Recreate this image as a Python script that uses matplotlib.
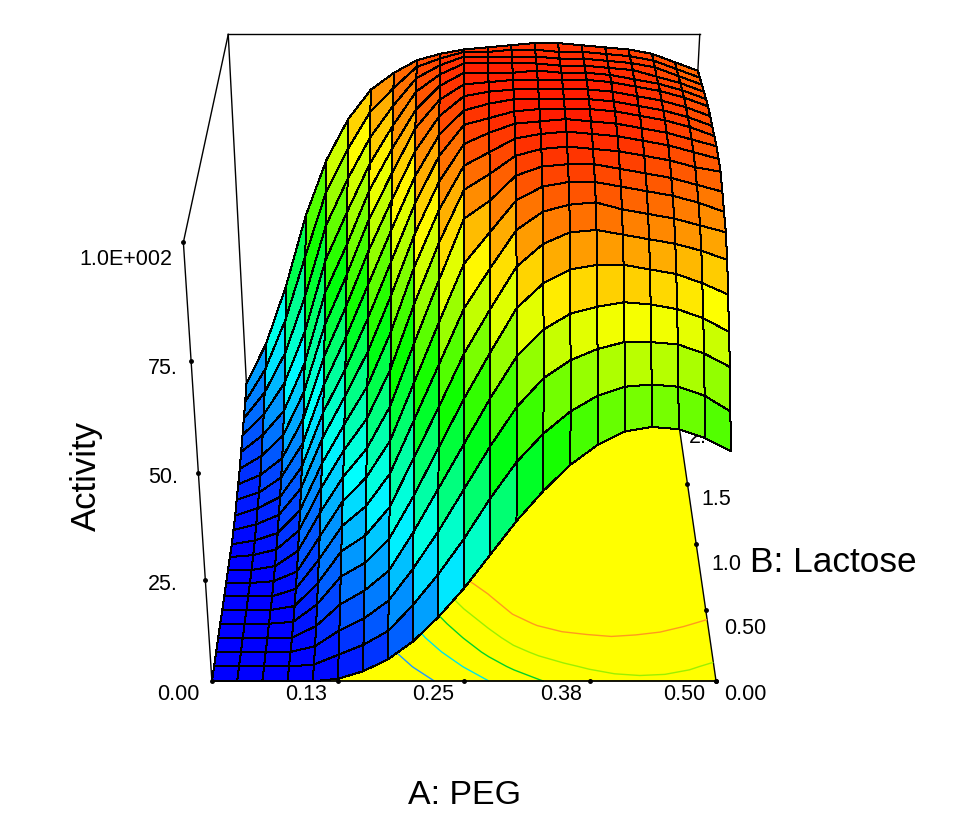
import numpy as np
import matplotlib
matplotlib.use("Agg")
import matplotlib.pyplot as plt
from matplotlib.colors import LinearSegmentedColormap

plt.rcParams['font.family'] = ['Liberation Sans', 'DejaVu Sans']

peg = [0.0, 0.025, 0.05, 0.075, 0.1, 0.125, 0.15, 0.175, 0.2, 0.225, 0.25,
       0.275, 0.3, 0.325, 0.35, 0.375, 0.4, 0.425, 0.45, 0.475, 0.5]
lactose = [0.0, 0.1, 0.2, 0.3, 0.4, 0.5, 0.6, 0.7, 0.8, 0.9, 1.0,
           1.1, 1.2, 1.3, 1.4, 1.5, 1.6, 1.7, 1.8, 1.9, 2.0]

# one row per peg value
activity = np.array([
    [0, 0, 0, 0, 0, 0, 0, 0, 0, 0, 0, 0.5, 1, 2, 3, 4, 5.5, 7, 8.5, 10, 12],
    [0, 0, 0, 0, 0, 0, 0, 0, 0, 0.5, 1, 2, 3, 4, 5.5, 7.5, 10, 12.5, 15.5, 19, 23],
    [0, 0, 0, 0, 0, 0, 0, 0.5, 1, 2, 3, 4.5, 6, 8, 10, 13, 16.5, 21, 26, 32, 38],
    [0, 0, 0, 0, 0.5, 1, 2, 3, 5, 7, 9, 11.5, 14, 17, 20.5, 24.5, 29, 34.5, 41, 48.5, 56],
    [0, 0.5, 1.5, 3, 5, 7, 9.5, 12, 15, 18, 21, 24.5, 28, 32, 36.5, 41.5, 47, 52.5, 58.5, 64.5, 70],
    [0.6, 3, 5.5, 8.5, 12, 15, 18, 21, 24, 27.5, 31, 35, 39, 44, 49, 54, 59, 64.5, 70, 75, 80],
    [2.5, 5.5, 8.5, 12, 15.5, 19, 23, 27, 31, 35.5, 40.5, 46, 51.5, 57, 62.5, 67.5, 72, 76, 80, 84, 87],
    [5.5, 9, 13, 17, 21.5, 26, 31, 36, 41.5, 47.5, 53.5, 59.5, 65, 70, 74.5, 78.5, 82, 85, 87.5, 89.5, 91],
    [10, 15.5, 21, 26.5, 32, 38, 44, 50, 56.5, 63, 69, 74, 78.5, 82.5, 86, 89, 91, 93, 94, 94.5, 94],
    [16, 23, 30, 37, 43.5, 50, 57, 64, 71, 77, 82, 86, 89.5, 92, 94, 95.5, 96.5, 97, 97, 96.5, 95.5],
    [23, 31.5, 40, 47.5, 55, 62.5, 70, 77.5, 85, 89, 92, 94.5, 96.5, 97.5, 98.5, 99, 99.5, 99.5, 99, 98, 96.5],
    [31, 41, 50, 58, 65.5, 72.5, 79, 84.5, 89, 92.5, 95, 97, 98, 99, 99.5, 99.5, 99.5, 99.5, 99, 98, 97],
    [39, 49.5, 59, 67.5, 75.5, 82, 87.5, 91.5, 94.5, 96.5, 98, 99, 99.5, 100, 100, 100, 99.5, 99.5, 99, 98.5, 97.5],
    [46, 56, 65.5, 73.5, 81, 87, 91.5, 94.5, 96.5, 98, 99, 99.5, 100, 100, 100, 100, 100, 99.5, 99, 98.5, 98],
    [52, 61, 69.5, 77, 84, 89.5, 93, 95.5, 97, 98.5, 99.5, 100, 100, 100, 100, 100, 99.5, 99, 98.5, 98, 98],
    [56.5, 64.5, 72, 78.5, 85, 90, 93.5, 95.5, 97, 98, 99, 99.5, 100, 100, 100, 100, 99.5, 99, 98.5, 98, 97.5],
    [59.5, 66.5, 73.5, 79.5, 85, 89, 92, 94.5, 96, 97.5, 98.5, 99, 99.5, 99.5, 99.5, 99.5, 99, 98.5, 98, 97.5, 97],
    [60.5, 67, 73.5, 79, 84, 88, 91, 93.5, 95, 96.5, 97.5, 98, 98.5, 98.5, 98.5, 98.5, 98, 98, 97.5, 97, 96.5],
    [60, 66.5, 73, 78, 83, 87, 90, 92.5, 94, 95.5, 96.5, 97, 97.5, 97.5, 97.5, 97.5, 97, 96.5, 96.5, 96, 95.5],
    [58, 64.5, 71, 76, 81, 85.5, 88.5, 91, 92.5, 94, 95, 95.5, 96, 96, 96, 96, 95.5, 95, 94.5, 94, 93.5],
    [55, 61, 68, 73, 78.5, 83.5, 87, 89, 91, 93, 93.5, 94, 94, 94, 94, 94, 93.5, 93, 92.5, 92, 91.5],
])

contour_levels = [15, 31, 47, 63, 80]
contour_colors = ['#1e9bff', '#00e6e6', '#00d228', '#9bf000', '#ff9a1e']

peg_ticks = [0.0, 0.125, 0.25, 0.375, 0.5]
peg_labels = ['0.00', '0.13', '0.25', '0.38', '0.50']
lactose_ticks = [0.0, 0.5, 1.0, 1.5, 2.0]
lactose_labels = ['0.00', '0.50', '1.0', '1.5', '2.']
activity_ticks = [25, 50, 75, 100]
activity_labels = ['25.', '50.', '75.', '1.0E+002']

W, H = 957, 821
fig = plt.figure(figsize=(W / 100, H / 100), dpi=100)
ax = fig.add_axes([42.4 / W, 52.4 / H, 821 / W, 821 / H], projection='3d',
                  computed_zorder=False)
ax.set_axis_off()
ax.patch.set_visible(False)
ax.view_init(elev=30, azim=-90)
ax.set_proj_type('persp', focal_length=0.548)
ax.set_box_aspect((2.1, 2.0, 2.06), zoom=0.976)
ax.set_xlim(0, 0.5, view_margin=0)
ax.set_ylim(0, 2, view_margin=0)
ax.set_zlim(0, 100, view_margin=0)

X, Y = np.meshgrid(peg, lactose, indexing='ij')

# floor with the contour lines
fx, fy = np.meshgrid([peg[0], peg[-1]], [lactose[0], lactose[-1]])
ax.plot_surface(fx, fy, np.zeros_like(fx), color='#ffff00', shade=False,
                linewidth=0, zorder=1)
ax.contour(X, Y, activity, levels=contour_levels, colors=contour_colors,
           zdir='z', offset=0, linewidths=1.0, zorder=2)

# bounding box, behind the surface
xl, xr = peg[0], peg[-1]
yf, yb = lactose[0], lactose[-1]
ztop = activity_ticks[-1]
for xs, ys, zs in [([xl, xl], [yb, yb], [0, ztop]),
                   ([xr, xr], [yb, yb], [0, ztop]),
                   ([xl, xr], [yb, yb], [ztop, ztop]),
                   ([xl, xl], [yf, yb], [ztop, ztop]),
                   ([xr, xr], [yf, yb], [0, 0])]:
    ax.plot(xs, ys, zs, color='k', lw=1.0, zorder=1.5)

jet5 = LinearSegmentedColormap.from_list(
    'de', ['#0000ff', '#00ffff', '#00ff00', '#ffff00', '#ff0000'])
ax.plot_surface(X, Y, activity, rstride=1, cstride=1, cmap=jet5, vmin=0, vmax=103,
                shade=False, edgecolor='k', linewidth=0.72, antialiased=False,
                zorder=3)

# front edges and tick dots go on top
ax.plot([xl, xr], [yf, yf], [0, 0], color='k', lw=1.3, zorder=4)
ax.plot([xl, xl], [yf, yf], [0, ztop], color='k', lw=1.0, zorder=4)
ax.plot(peg_ticks, [yf] * 5, [0] * 5, ls='', marker='o', ms=2.5, color='k', zorder=5)
ax.plot([xr] * 5, lactose_ticks, [0] * 5, ls='', marker='o', ms=2.5, color='k', zorder=2.5)
ax.plot([xl] * 4, [yf] * 4, activity_ticks, ls='', marker='o', ms=2.5, color='k', zorder=5)


def label(x, y, s, size=15.5, zorder=3, **kw):
    # x, y are pixels from the top left of the picture
    kw.setdefault('ha', 'center')
    kw.setdefault('va', 'center')
    fig.text(x / W, 1 - y / H, s, fontsize=size, zorder=zorder, **kw)


for s, x in zip(peg_labels, [178, 306, 433, 561, 684]):
    label(x, 694, s)
for s, x, y in zip(lactose_labels, [745, 745, 726, 716, 698], [694, 628, 564, 499, 437]):
    # the top label sits partly behind the surface in the original
    label(x, y, s, zorder=-1 if s == '2.' else 3)
for s, x, y in zip(activity_labels, [178, 178, 178, 172], [585, 477, 368, 259]):
    label(x, y, s, ha='right')

label(464, 795, 'A: PEG', size=24.4)
label(750, 563, 'B: Lactose', size=25.4, ha='left')
label(86, 476, 'Activity', size=25, rotation=90)

fig.savefig('out.png', dpi=100, facecolor='white')
